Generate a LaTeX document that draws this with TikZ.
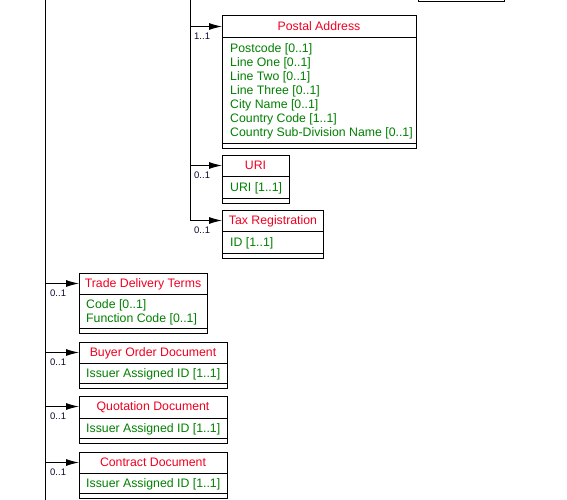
\documentclass[tikz,border=0pt]{standalone}
\usepackage{fontspec}
\setmainfont{Liberation Sans}
\usetikzlibrary{arrows.meta}

\definecolor{titlered}{RGB}{240,0,32}
\definecolor{attrgreen}{RGB}{0,128,0}
\definecolor{multink}{RGB}{10,10,50}

\tikzset{
  frame/.style={draw, line width=1pt, inner sep=0pt, anchor=north west},
  title/.style={text=titlered, inner sep=0pt, text height=8.6pt, text depth=0pt,
                font=\fontsize{12.3}{14}\selectfont},
  attr/.style={text=attrgreen, inner sep=0pt, anchor=west, align=left,
               font=\fontsize{12.3}{14}\selectfont},
  mult/.style={text=multink, inner sep=0pt, anchor=west, text height=6.8pt, text depth=0pt,
               font=\fontsize{9.5}{10}\selectfont},
  rule/.style={line width=1pt},
  conn/.style={line width=1pt, -{Latex[length=13pt,width=7pt]}},
}

\begin{document}
\begin{tikzpicture}[x=1pt,y=-1pt]
\useasboundingbox (0,0) rectangle (567,500);
\clip (0,0) rectangle (567,500);

% trunks
\coordinate (tA) at (190.5,-10);
\coordinate (tB) at (45.5,-10);
\coordinate (tBend) at (45.5,510);
\draw[rule] (tB) -- (tBend);

% partially visible class at the top
\node[frame, anchor=south west, minimum width=86pt, minimum height=20pt] (topbox) at (418,2.5) {};

% Postal Address
\node[frame, minimum width=194pt, minimum height=132pt] (pa) at (222,15.5) {};
\node[title] (paT) at (319,26.5) {Postal Address};
\draw[rule] (222,37.5) -- (416,37.5);
\draw[rule] (222,143.5) -- (416,143.5);
\node[attr] (paA) at (230,91) {Postcode [0..1]\\Line One [0..1]\\Line Two [0..1]\\Line Three [0..1]\\City Name [0..1]\\Country Code [1..1]\\Country Sub-Division Name [0..1]};
\draw[conn] (tA |- paT) -- (paT -| pa.west);
\node[mult] (paM) at (194,36.5) {1..1};

% URI
\node[frame, minimum width=67pt, minimum height=48pt] (uri) at (222,154.5) {};
\node[title] (uriT) at (255.5,165.5) {URI};
\draw[rule] (222,176.5) -- (289,176.5);
\draw[rule] (222,198.5) -- (289,198.5);
\node[attr] (uriA) at (230,188) {URI [1..1]};
\draw[conn] (tA |- uriT) -- (uriT -| uri.west);
\node[mult] (uriM) at (194,175.5) {0..1};

% Tax Registration
\node[frame, minimum width=101pt, minimum height=48pt] (tax) at (222,209.5) {};
\node[title] (taxT) at (273,220.5) {Tax Registration};
\draw[rule] (222,231.5) -- (323,231.5);
\draw[rule] (222,253.5) -- (323,253.5);
\node[attr] (taxA) at (230,243) {ID [1..1]};
\draw[conn] (tA |- taxT) -- (taxT -| tax.west);
\node[mult] (taxM) at (194,230.5) {0..1};

\draw[rule] (tA) -- (tA |- taxT);

% Trade Delivery Terms
\node[frame, minimum width=128pt, minimum height=60pt] (tdt) at (79,272.5) {};
\node[title] (tdtT) at (143,283.5) {Trade Delivery Terms};
\draw[rule] (79,294.5) -- (207,294.5);
\draw[rule] (79,328.5) -- (207,328.5);
\node[attr] (tdtA) at (86,312) {Code [0..1]\\Function Code [0..1]};
\draw[conn] (tB |- tdtT) -- (tdtT -| tdt.west);
\node[mult] (tdtM) at (50,293.5) {0..1};

% Buyer Order Document
\node[frame, minimum width=148pt, minimum height=46pt] (bod) at (79,341.5) {};
\node[title] (bodT) at (153,352.5) {Buyer Order Document};
\draw[rule] (79,363.5) -- (227,363.5);
\draw[rule] (79,383.5) -- (227,383.5);
\node[attr] (bodA) at (86,374) {Issuer Assigned ID [1..1]};
\draw[conn] (tB |- bodT) -- (bodT -| bod.west);
\node[mult] (bodM) at (50,362.5) {0..1};

% Quotation Document
\node[frame, minimum width=148pt, minimum height=47pt] (qd) at (79,395.5) {};
\node[title] (qdT) at (153,406.5) {Quotation Document};
\draw[rule] (79,418.5) -- (227,418.5);
\draw[rule] (79,438.5) -- (227,438.5);
\node[attr] (qdA) at (86,429) {Issuer Assigned ID [1..1]};
\draw[conn] (tB |- qdT) -- (qdT -| qd.west);
\node[mult] (qdM) at (50,416.5) {0..1};

% Contract Document
\node[frame, minimum width=148pt, minimum height=46pt] (cd) at (79,451.5) {};
\node[title] (cdT) at (153,462.5) {Contract Document};
\draw[rule] (79,473.5) -- (227,473.5);
\draw[rule] (79,493.5) -- (227,493.5);
\node[attr] (cdA) at (86,484) {Issuer Assigned ID [1..1]};
\draw[conn] (tB |- cdT) -- (cdT -| cd.west);
\node[mult] (cdM) at (50,472.5) {0..1};

\end{tikzpicture}
\end{document}
